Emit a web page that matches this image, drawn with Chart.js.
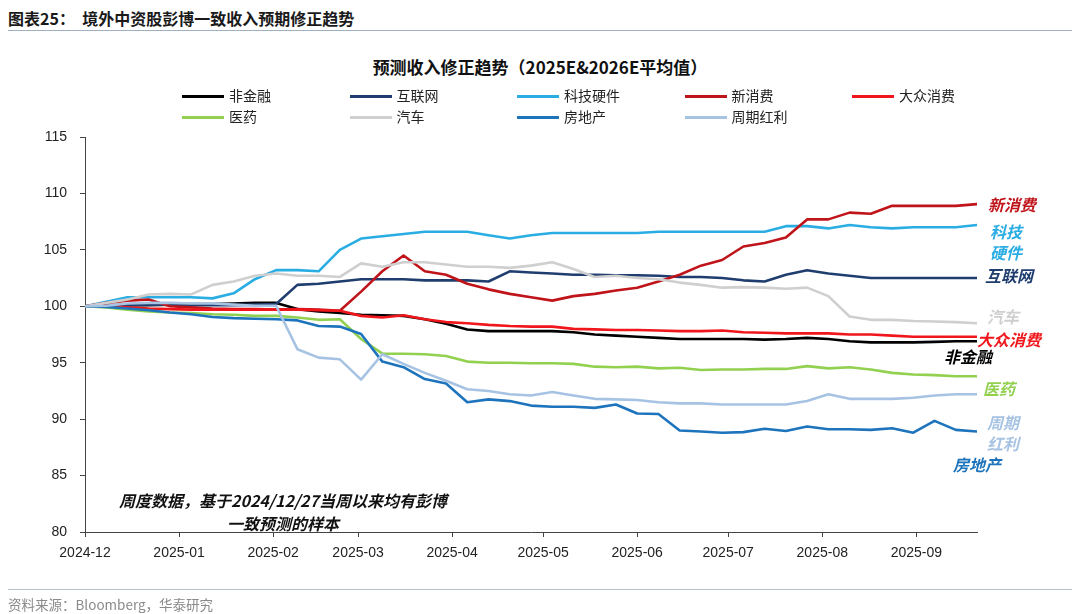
<!DOCTYPE html>
<html>
<head>
<meta charset="utf-8">
<script src="https://cdn.jsdelivr.net/npm/chart.js@4.4.1/dist/chart.umd.min.js"></script>
<style>
  body { margin: 0; background: #fff; }
  #page { position: relative; width: 1080px; height: 614px; overflow: hidden; background: #fff;
          font-family: "Noto Sans CJK SC", "Noto Sans", sans-serif; }
  #c { position: absolute; left: 0; top: 0; }
  .abs { position: absolute; white-space: nowrap; }
  .rule { position: absolute; left: 8px; width: 1064px; height: 0; }
  .lg-line { position: absolute; width: 42px; height: 3px; }
  .lg-text { position: absolute; font-size: 14px; color: #222; line-height: 14px; }
  .end { position: absolute; font-size: 16px; font-weight: bold; font-style: italic; line-height: 17px; white-space: nowrap; }
</style>
</head>
<body>
<div id="page">
  <div class="abs" style="left:8px; top:6px; font-size:16px; font-weight:bold; color:#1a1a1a;">图表25：&nbsp;&nbsp;境外中资股彭博一致收入预期修正趋势</div>
  <div class="rule" style="top:30px; border-top:1.5px solid #9fb0c2;"></div>
  <div class="abs" style="left:0; width:1080px; top:54px; text-align:center; font-size:17px; font-weight:bold; color:#111;">预测收入修正趋势（2025E&amp;2026E平均值）</div>
  <canvas id="c" width="1080" height="614"></canvas>
  <div class="abs" style="left:113px; width:340px; top:489px; text-align:center; font-size:16px; font-weight:bold; font-style:italic; line-height:23px; color:#111;">周度数据，基于2024/12/27当周以来均有彭博<br>一致预测的样本</div>
  <div class="rule" style="top:589px; border-top:1.5px solid #b8c2cc;"></div>
  <div class="abs" style="left:8px; top:594px; font-size:13.5px; color:#8a8a8a;">资料来源：Bloomberg，华泰研究</div>
</div>
<script>
// weekly data, first week 2024-12-27
const startDate = "2024-12-27";
const weekCount = 43;

// x axis ticks (monthly from start date)
const tickDates = ["2024-12-27", "2025-01-27", "2025-02-27", "2025-03-27", "2025-04-27",
                   "2025-05-27", "2025-06-27", "2025-07-27", "2025-08-27", "2025-09-27"];
const tickLabels = ["2024-12", "2025-01", "2025-02", "2025-03", "2025-04",
                    "2025-05", "2025-06", "2025-07", "2025-08", "2025-09"];

const yTicks = { min: 80, max: 115, step: 5 };

// series
const nonFin = [100, 100.05, 100.1, 100.1, 100.15, 100.2, 100.2, 100.25, 100.3, 100.3, 99.75, 99.55, 99.4, 99.25, 99.2,
  99.15, 98.85, 98.45, 97.95, 97.8, 97.8, 97.8, 97.8, 97.7, 97.5, 97.4, 97.3, 97.2, 97.1,
  97.1, 97.1, 97.1, 97.05, 97.1, 97.2, 97.1, 96.9, 96.8, 96.8, 96.8, 96.85, 96.9, 96.9];
const internet = [100, 100.1, 100.1, 100.15, 100.15, 100.1, 100.1, 100.1, 100.15, 100.2, 101.9, 102.0, 102.2, 102.4, 102.4,
  102.4, 102.3, 102.3, 102.3, 102.2, 103.1, 103.0, 102.9, 102.8, 102.8, 102.75, 102.75, 102.7, 102.6,
  102.6, 102.5, 102.3, 102.2, 102.8, 103.2, 102.9, 102.7, 102.5, 102.5, 102.5, 102.5, 102.5, 102.5];
const techHW = [100, 100.4, 100.8, 100.8, 100.8, 100.8, 100.7, 101.15, 102.4, 103.2, 103.2, 103.1, 105.0, 106.0, 106.2,
  106.4, 106.6, 106.6, 106.6, 106.3, 106.0, 106.3, 106.5, 106.5, 106.5, 106.5, 106.5, 106.6, 106.6,
  106.6, 106.6, 106.6, 106.6, 107.1, 107.1, 106.9, 107.2, 107.0, 106.9, 107.0, 107.0, 107.0, 107.2];
const newCons = [100, 100.3, 100.5, 100.6, 100.0, 99.9, 99.8, 99.75, 99.75, 99.7, 99.75, 99.7, 99.6, 101.3, 103.1,
  104.5, 103.1, 102.8, 102.0, 101.5, 101.1, 100.8, 100.5, 100.9, 101.1, 101.4, 101.65, 102.2, 102.8,
  103.6, 104.1, 105.3, 105.6, 106.1, 107.7, 107.7, 108.3, 108.2, 108.9, 108.9, 108.9, 108.9, 109.05];
const massCons = [100, 100.05, 99.9, 99.8, 99.75, 99.7, 99.7, 99.7, 99.7, 99.7, 99.7, 99.65, 99.6, 99.15, 99.0,
  99.2, 98.85, 98.6, 98.5, 98.35, 98.25, 98.2, 98.2, 98.0, 97.95, 97.9, 97.9, 97.85, 97.8,
  97.8, 97.85, 97.7, 97.65, 97.6, 97.6, 97.6, 97.5, 97.5, 97.4, 97.3, 97.3, 97.3, 97.3];
const pharma = [100, 99.9, 99.7, 99.55, 99.45, 99.4, 99.3, 99.25, 99.15, 99.15, 99.0, 98.8, 98.85, 97.1, 95.8,
  95.8, 95.75, 95.6, 95.1, 95.0, 95.0, 94.95, 94.95, 94.9, 94.65, 94.6, 94.65, 94.5, 94.55,
  94.35, 94.4, 94.4, 94.45, 94.45, 94.7, 94.5, 94.6, 94.4, 94.1, 93.95, 93.9, 93.8, 93.8];
const auto = [100, 100.3, 100.6, 101.05, 101.1, 101.05, 101.9, 102.2, 102.7, 102.9, 102.7, 102.7, 102.6, 103.8, 103.5,
  103.9, 103.9, 103.7, 103.5, 103.5, 103.4, 103.6, 103.9, 103.3, 102.6, 102.7, 102.5, 102.4, 102.1,
  101.9, 101.65, 101.7, 101.65, 101.55, 101.65, 100.9, 99.1, 98.8, 98.8, 98.7, 98.65, 98.6, 98.5];
const realEstate = [100, 99.95, 99.8, 99.65, 99.45, 99.3, 99.05, 98.95, 98.9, 98.85, 98.75, 98.25, 98.2, 97.55, 95.1,
  94.6, 93.55, 93.15, 91.5, 91.75, 91.6, 91.2, 91.1, 91.1, 91.0, 91.3, 90.5, 90.45, 89.0,
  88.9, 88.8, 88.85, 89.15, 88.95, 89.35, 89.1, 89.1, 89.05, 89.2, 88.8, 89.85, 89.05, 88.9];
const cyclical = [100, 100.05, 100.25, 100.3, 100.3, 100.25, 100.25, 100.15, 100.05, 100.05, 96.2, 95.45, 95.3, 93.5, 95.75,
  94.9, 94.1, 93.4, 92.65, 92.5, 92.2, 92.1, 92.4, 92.1, 91.8, 91.75, 91.7, 91.5, 91.4,
  91.4, 91.3, 91.3, 91.3, 91.3, 91.6, 92.2, 91.8, 91.8, 91.8, 91.9, 92.1, 92.2, 92.2];

const seriesNames = ["非金融", "互联网", "科技硬件", "新消费", "大众消费", "医药", "汽车", "房地产", "周期红利"];
const seriesValues = [nonFin, internet, techHW, newCons, massCons, pharma, auto, realEstate, cyclical];
const seriesColors = ["#000000", "#1F3D6E", "#2AADE3", "#C0141B", "#F0161B", "#92D050", "#CFCFCF", "#1E74BC", "#A7C3E3"];

// labels at the right end of the lines
const endLabels = [
  { name: "新消费", lines: ["新消费"], x: 988, y: 196 },
  { name: "科技硬件", lines: ["科技", "硬件"], x: 990, y: 221 },
  { name: "互联网", lines: ["互联网"], x: 985, y: 267 },
  { name: "汽车", lines: ["汽车"], x: 987, y: 308 },
  { name: "大众消费", lines: ["大众消费"], x: 977, y: 331 },
  { name: "非金融", lines: ["非金融"], x: 944, y: 348 },
  { name: "医药", lines: ["医药"], x: 983, y: 380 },
  { name: "周期红利", lines: ["周期", "红利"], x: 987, y: 412 },
  { name: "房地产", lines: ["房地产"], x: 953, y: 456 }
];

const dayMs = 86400000;
function dayOffset(d) { return (Date.parse(d) - Date.parse(startDate)) / dayMs; }
const weekDays = [];
for (let i = 0; i < weekCount; i++) weekDays.push(i * 7);
const tickDays = tickDates.map(dayOffset);

// legend (HTML, 5 columns)
const page = document.getElementById("page");
seriesNames.forEach((name, k) => {
  const col = k % 5, row = Math.floor(k / 5);
  const left = 182 + col * 167.5;
  const cy = row === 0 ? 96 : 117;
  const ln = document.createElement("div");
  ln.className = "lg-line";
  ln.style.left = left + "px";
  ln.style.top = (cy - 1.5) + "px";
  ln.style.background = seriesColors[k];
  page.appendChild(ln);
  const tx = document.createElement("div");
  tx.className = "lg-text";
  tx.style.left = (left + 47) + "px";
  tx.style.top = (cy - 8) + "px";
  tx.textContent = name;
  page.appendChild(tx);
});

endLabels.forEach(lab => {
  const el = document.createElement("div");
  el.className = "end";
  el.style.left = lab.x + "px";
  el.style.top = lab.y + "px";
  el.style.color = seriesColors[seriesNames.indexOf(lab.name)];
  el.style.lineHeight = lab.lines.length > 1 ? "21px" : "17px";
  el.innerHTML = lab.lines.join("<br>");
  page.appendChild(el);
});

const axisColor = "#444";
const tickFont = { family: "'Liberation Sans', Arial, sans-serif", size: 14 };

new Chart(document.getElementById("c").getContext("2d"), {
  type: "line",
  data: {
    datasets: seriesNames.map((name, k) => ({
      label: name,
      data: seriesValues[k].map((v, i) => ({ x: weekDays[i], y: v })),
      borderColor: seriesColors[k],
      borderWidth: 2.6,
      borderJoinStyle: "round",
      borderCapStyle: "round",
      pointRadius: 0,
      tension: 0,
      fill: false,
      order: seriesNames.length - k
    }))
  },
  options: {
    responsive: false,
    animation: false,
    events: [],
    layout: { padding: { left: 0, right: 103, top: 137, bottom: 0 } },
    plugins: { legend: { display: false }, tooltip: { enabled: false } },
    scales: {
      x: {
        type: "linear",
        min: 0,
        max: weekDays[weekDays.length - 1],
        afterBuildTicks: s => { s.ticks = tickDays.map(v => ({ value: v })); },
        afterFit: s => { s.height = 82; },
        ticks: {
          autoSkip: false, maxRotation: 0, padding: 8, color: "#222", font: tickFont,
          callback: v => { const j = tickDays.indexOf(v); return j >= 0 ? tickLabels[j] : ""; }
        },
        grid: { drawOnChartArea: false, drawTicks: true, tickLength: 5, color: axisColor },
        border: { display: true, color: axisColor, width: 1 }
      },
      y: {
        min: yTicks.min,
        max: yTicks.max,
        afterFit: s => { s.width = 85; },
        ticks: { stepSize: yTicks.step, padding: 13, color: "#222", font: tickFont },
        grid: { drawOnChartArea: false, drawTicks: true, tickLength: 5, color: axisColor },
        border: { display: true, color: axisColor, width: 1 }
      }
    }
  }
});
</script>
</body>
</html>
